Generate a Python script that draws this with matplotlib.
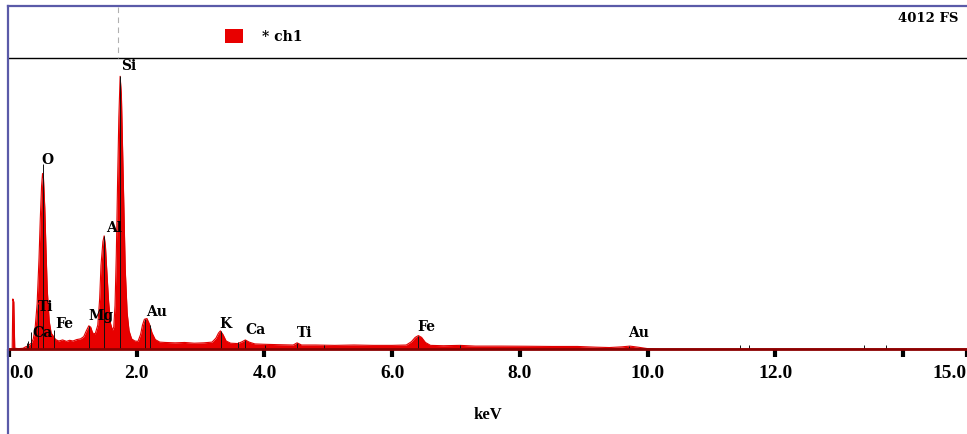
import numpy as np
import matplotlib
matplotlib.use("Agg")
import matplotlib.pyplot as plt
from matplotlib.lines import Line2D
from matplotlib.patches import Rectangle

# spectrum (keV, counts)
energy_kev = [0.00, 0.05, 0.06, 0.075, 0.09, 0.15, 0.22, 0.26, 0.29, 0.32,
              0.35, 0.38, 0.41, 0.44, 0.47, 0.49, 0.51, 0.525, 0.54, 0.56,
              0.58, 0.60, 0.63, 0.66, 0.70, 0.73, 0.78, 0.84, 0.90, 0.95,
              1.00, 1.06, 1.12, 1.17, 1.21, 1.25, 1.28, 1.31, 1.35, 1.39,
              1.42, 1.44, 1.47, 1.49, 1.51, 1.53, 1.56, 1.59, 1.62, 1.64,
              1.66, 1.68, 1.70, 1.72, 1.74, 1.76, 1.78, 1.80, 1.82, 1.85,
              1.88, 1.92, 1.97, 2.02, 2.06, 2.09, 2.12, 2.16, 2.20, 2.24,
              2.29, 2.36, 2.45, 2.60, 2.75, 2.90, 3.05, 3.18, 3.24, 3.28,
              3.31, 3.35, 3.40, 3.47, 3.58, 3.65, 3.70, 3.76, 3.85, 4.00,
              4.20, 4.45, 4.51, 4.58, 4.80, 5.10, 5.40, 5.70, 6.00, 6.22,
              6.30, 6.36, 6.41, 6.46, 6.52, 6.60, 6.80, 7.06, 7.30, 7.70,
              8.10, 8.50, 8.90, 9.20, 9.40, 9.60, 9.72, 9.85, 10.0, 10.2,
              15.0]
counts = [0, 0, 690, 650, 10, 5, 10, 30, 40, 60,
          80, 140, 300, 620, 1250, 1800, 2250, 2420, 2350, 1950,
          1350, 800, 380, 220, 170, 130, 110, 125, 105, 120,
          110, 130, 140, 170, 250, 320, 300, 220, 210, 330,
          700, 1150, 1480, 1560, 1420, 1100, 650, 350, 260, 300,
          600, 1300, 2300, 3200, 3760, 3500, 2700, 1900, 1100, 500,
          250, 140, 110, 105, 200, 330, 410, 420, 340, 220,
          130, 95, 90, 85, 90, 80, 85, 95, 150, 220,
          250, 200, 110, 80, 75, 100, 125, 95, 70, 65,
          60, 55, 85, 55, 55, 50, 55, 50, 50, 55,
          100, 160, 185, 160, 90, 50, 45, 50, 40, 40,
          38, 35, 35, 25, 20, 30, 40, 25, 5, 0,
          0]

# element marker lines
marker_kev = [0.28, 0.30, 0.341, 0.452, 0.525, 0.705, 1.254, 1.487, 1.740,
              2.123, 2.204, 3.313, 3.59, 3.691, 4.01, 4.51, 4.93, 6.40,
              7.06, 9.71, 11.44, 11.58, 13.38, 13.73]
marker_top = [80, 110, 230, 620, 2550, 260, 320, 1560, 3760,
              420, 330, 250, 90, 130, 60, 85, 60, 185,
              60, 45, 60, 60, 60, 60]

# peak labels
label_names = ["Si", "O", "Al", "Ti", "Ca", "Fe", "Mg", "Au", "K", "Ca", "Ti", "Fe", "Au"]
label_kev = [1.76, 0.50, 1.52, 0.45, 0.36, 0.72, 1.25, 2.14, 3.30, 3.70, 4.50, 6.39, 9.70]
label_counts = [3916, 2620, 1682, 593, 234, 358, 469, 524, 358, 276, 234, 317, 234]

tick_kev = [0, 2, 4, 6, 8, 10, 12, 14, 15]
tick_labels = ["0.0", "2.0", "4.0", "6.0", "8.0", "10.0", "12.0", "", "15.0"]
full_scale = 4012

W, H = 967, 435
fig = plt.figure(figsize=(W / 100, H / 100), dpi=100)
fig.patch.set_facecolor("white")

ax = fig.add_axes([9 / W, 85 / H, 958 / W, 291 / H])
ax.set_xlim(0, 15)
ax.set_ylim(0, full_scale)

ax.fill_between(energy_kev, counts, 0, color="#e80000", linewidth=0, zorder=2)
ax.plot(energy_kev, counts, color="#e00000", lw=0.8, zorder=3)
ax.vlines(marker_kev, 0, marker_top, color="#111111", lw=0.7, zorder=4)

for name, e, c in zip(label_names, label_kev, label_counts):
  ax.text(e, c, name, ha="left", va="center", fontsize=10,
          fontfamily="DejaVu Serif", fontweight="bold", color="black", zorder=5)

ax.set_yticks([])
ax.set_xticks(tick_kev)
ax.set_xticklabels(tick_labels, fontfamily="Liberation Serif", fontweight="bold", fontsize=14)
ax.get_xticklabels()[0].set_ha("left")
ax.get_xticklabels()[-1].set_ha("right")
ax.tick_params(axis="x", direction="out", length=6, width=3, color="black", pad=5)
ax.set_xlabel("keV", fontfamily="Liberation Serif", fontweight="bold", fontsize=12, labelpad=18)

for side in ["left", "right"]:
  ax.spines[side].set_visible(False)
ax.spines["top"].set_color("black")
ax.spines["top"].set_linewidth(1)
ax.spines["bottom"].set_color("#8b0000")
ax.spines["bottom"].set_linewidth(2)
ax.spines["bottom"].set_zorder(6)

# frame and header
def fx(px):
  return px / W

def fy(py):
  return 1 - py / H

border = "#5a5aa8"
fig.add_artist(Line2D([fx(8), fx(8)], [fy(7), fy(435)], color=border, lw=1.6))
fig.add_artist(Line2D([fx(8), fx(967)], [fy(7), fy(7)], color=border, lw=1.6))
fig.add_artist(Line2D([fx(118), fx(118)], [fy(8), fy(59)], color="#b0b0b0",
                      lw=0.8, ls=(0, (5, 4))))

fig.add_artist(Rectangle((fx(225), fy(44)), 18 / W, 14 / H, transform=fig.transFigure,
                         facecolor="#e80000", edgecolor="none"))
fig.text(fx(262), fy(37), "* ch1", ha="left", va="center", fontsize=10,
         fontfamily="DejaVu Serif", fontweight="bold")
fig.text(fx(958), fy(18), "4012 FS", ha="right", va="center", fontsize=9.5,
         fontfamily="DejaVu Serif", fontweight="bold")

fig.savefig("out.png", dpi=100, facecolor="white")
